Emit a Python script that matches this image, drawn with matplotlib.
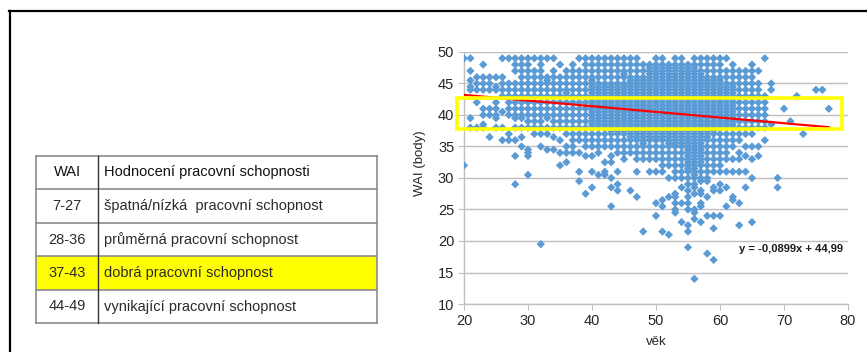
import matplotlib
matplotlib.use("Agg")
import matplotlib.pyplot as plt
from matplotlib.patches import Rectangle
from matplotlib.lines import Line2D
import numpy as np

# ---------------- data ----------------
table_wai = ["7-27", "28-36", "37-43", "44-49"]
table_desc = ["špatná/nízká  pracovní schopnost", "průměrná pracovní schopnost",
              "dobrá pracovní schopnost", "vynikající pracovní schopnost"]
table_header = ["WAI", "Hodnocení pracovní schopnosti"]
highlight_row = 2

ages = list(range(20, 78))
wai_columns = [
    [49, 32],                                                        # 20
    [49, 47, 45.5, 44.5, 44, 39.5, 38],                              # 21
    [46, 45, 44, 42, 38],                                            # 22
    [48, 46, 45, 44, 41, 40, 38.5, 38],                              # 23
    [46, 45, 44, 41, 40, 36.5],                                      # 24
    [46, 44.5, 44, 42, 41, 40, 39.5, 38],                            # 25
    [49, 46, 45, 44, 43, 40.5, 38, 36],                              # 26
    [49, 45, 44, 43, 42, 41, 40, 37, 36],                            # 27
    [49, 48, 47, 45, 44, 43, 42, 41, 40, 39.5, 38, 36, 33.5, 29],    # 28
    [49, 48, 47, 46, 45, 44, 43, 42, 41, 40, 39.5, 38, 36.5, 35],    # 29
    [49, 48, 47, 46, 45, 44, 43, 42, 41, 40, 39, 38, 34.5, 34, 33.5, 30.5],  # 30
    [49, 47, 46, 45, 44, 43, 42, 41, 40, 39, 38, 37],                # 31
    [49, 48, 47, 46, 45, 44, 43, 42, 41, 40, 39, 38, 37, 35, 19.5],  # 32
    [49, 46, 45.5, 45, 44, 43, 42, 41, 40, 39.5, 38, 37, 34.5],      # 33
    [49, 47, 46, 45, 44, 43, 42, 41, 40, 39, 38, 36.5, 34.5],        # 34
    [48, 46, 45, 44, 43, 42, 41, 40, 39, 38, 36, 34, 32],            # 35
    [47, 46, 45, 44, 43.5, 43, 42, 41, 40, 39, 38, 37, 35, 34, 32.5],  # 36
    [48, 47, 46, 45, 44, 43, 42, 41, 40, 39, 38, 37, 36, 35, 34],    # 37
    [49, 47, 46, 45, 44, 43, 42, 41, 40, 39, 38, 37, 36, 34, 31, 29.5],  # 38
    [49, 48, 47, 46, 45, 44, 43, 42, 41, 40, 39, 38, 37, 36, 35, 33.5, 27.5],  # 39
    [49, 48, 47, 46, 45.5, 45, 44.5, 44, 43.5, 43, 42.5, 42, 41.5, 41, 40.5, 40,
     39.5, 39, 38.5, 38, 37, 36, 35, 33.5, 31, 28.5],                # 40
    [49, 48, 47, 46, 45, 44.5, 44, 43.5, 43, 42.5, 42, 41.5, 41, 40.5, 40, 39.5,
     39, 38.5, 38, 37, 36, 35, 34, 30.5],                            # 41
    [49, 48, 47, 46, 45, 44.5, 44, 43.5, 43, 42.5, 42, 41.5, 41, 40.5, 40, 39.5,
     39, 38.5, 38, 37, 36, 35, 32.5, 31, 30.5],                      # 42
    [49, 48, 47, 46, 45, 44.5, 44, 43.5, 43, 42.5, 42, 41.5, 41, 40.5, 40, 39.5,
     39, 38.5, 38, 37.5, 37, 36, 35, 33.5, 32.5, 30, 28.5, 25.5],    # 43
    [49, 48, 47, 46, 45, 44.5, 44, 43.5, 43, 42.5, 42, 41.5, 41, 40.5, 40, 39.5,
     39, 38.5, 38, 37.5, 37, 36, 35, 34, 31, 29, 28],                # 44
    [49, 48, 47, 46.5, 46, 45, 44.5, 44, 43.5, 43, 42.5, 42, 41.5, 41, 40.5, 40,
     39.5, 39, 38.5, 38, 37.5, 37, 36, 35, 34, 33],                  # 45
    [49, 48, 47, 46, 45.5, 45, 44.5, 44, 43.5, 43, 42.5, 42, 41.5, 41, 40.5, 40,
     39.5, 39, 38.5, 38, 37.5, 37, 36.5, 36, 35, 34, 28],            # 46
    [49, 48, 47, 46, 45.5, 45, 44.5, 44, 43.5, 43, 42.5, 42, 41.5, 41, 40.5, 40,
     39.5, 39, 38.5, 38, 37.5, 37, 36.5, 36, 35, 34, 33, 31, 27],    # 47
    [48, 47, 46, 45.5, 45, 44.5, 44, 43.5, 43, 42.5, 42, 41.5, 41, 40.5, 40, 39.5,
     39, 38.5, 38, 37.5, 37, 36.5, 36, 35.5, 35, 34, 33, 21.5],      # 48
    [48, 47.5, 47, 46.5, 46, 45.5, 45, 44.5, 44, 43.5, 43, 42.5, 42, 41.5, 41,
     40.5, 40, 39.5, 39, 38.5, 38, 37.5, 37, 36.5, 36, 35, 34, 33, 31],  # 49
    [49, 48, 47.5, 47, 46.5, 46, 45.5, 45, 44.5, 44, 43.5, 43, 42.5, 42, 41.5, 41,
     40.5, 40, 39.5, 39, 38.5, 38, 37.5, 37, 36.5, 36, 35, 34, 33, 31, 26, 24],  # 50
    [49, 48, 47.5, 47, 46.5, 46, 45.5, 45, 44.5, 44, 43.5, 43, 42.5, 42, 41.5, 41,
     40.5, 40, 39.5, 39, 38.5, 38, 37.5, 37, 36.5, 36, 35, 34, 33, 32, 31, 26.5,
     25.5, 21.5],                                                    # 51
    [48, 47.5, 47, 46.5, 46, 45.5, 45, 44.5, 44, 43.5, 43, 42.5, 42, 41.5, 41, 40.5,
     40, 39.5, 39, 38.5, 38, 37.5, 37, 36.5, 36, 35.5, 35, 34, 33, 32, 30, 27, 21],  # 52
    [49, 48, 47.5, 47, 46.5, 46, 45.5, 45, 44.5, 44, 43.5, 43, 42.5, 42, 41.5, 41,
     40.5, 40, 39.5, 39, 38.5, 38, 37.5, 37, 36.5, 36, 35.5, 35, 34, 33, 32, 31, 30,
     27.5, 27, 26, 25, 24.5],                                        # 53
    [49, 48, 47.5, 47, 46.5, 46, 45.5, 45, 44.5, 44, 43.5, 43, 42.5, 42, 41.5, 41,
     40.5, 40, 39.5, 39, 38.5, 38, 37.5, 37, 36.5, 36, 35.5, 35, 34, 33, 32, 31, 30,
     28.5, 26, 23],                                                  # 54
    [48, 47.5, 47, 46.5, 46, 45.5, 45, 44.5, 44, 43.5, 43, 42.5, 42, 41.5, 41, 40.5,
     40, 39.5, 39, 38.5, 38, 37.5, 37, 36.5, 36, 35.5, 35, 34.5, 34, 33.5, 33, 32.5,
     32, 31.5, 31, 30, 29, 28, 27, 26, 25, 22.5, 21.5, 19],          # 55
    [49, 48, 47.5, 47, 46.5, 46, 45.5, 45, 44.5, 44, 43.5, 43, 42.5, 42, 41.5, 41,
     40.5, 40, 39.5, 39, 38.5, 38, 37.5, 37, 36.5, 36, 35.5, 35, 34.5, 34, 33.5, 33,
     32.5, 32, 31.5, 31, 30.5, 30, 29, 28.5, 27.5, 25, 24.5, 23.5, 14],  # 56
    [49, 48, 47, 46.5, 46, 45.5, 45, 44.5, 44, 43.5, 43, 42.5, 42, 41.5, 41, 40.5,
     40, 39.5, 39, 38.5, 38, 37.5, 37, 36.5, 36, 35.5, 35, 34.5, 34, 33.5, 33, 32.5,
     32, 31, 30, 29.5, 28, 27.5, 26, 25.5, 23],                      # 57
    [49, 48, 47, 46, 45.5, 45, 44.5, 44, 43.5, 43, 42.5, 42, 41.5, 41, 40.5, 40,
     39.5, 39, 38.5, 38, 37.5, 37, 36.5, 36, 35, 34, 33, 32, 31, 30, 29.5, 27, 24, 18],  # 58
    [49, 48, 47, 46, 45.5, 45, 44.5, 44, 43.5, 43, 42.5, 42, 41.5, 41, 40.5, 40,
     39.5, 39, 38.5, 38, 37.5, 37, 36, 35, 34, 33, 32, 31, 28.5, 28, 24, 22, 17],  # 59
    [49, 48, 47, 46, 45.5, 45, 44.5, 44, 43.5, 43, 42.5, 42, 41.5, 41, 40.5, 40,
     39.5, 39, 38.5, 38, 37, 36, 35, 34, 33, 32, 31, 29, 28, 24],    # 60
    [49, 47, 46, 45, 44.5, 44, 43.5, 43, 42.5, 42, 41.5, 41, 40.5, 40, 39.5, 39,
     38.5, 38, 37, 36, 35, 34, 33, 31, 28.5, 25.5],                  # 61
    [48, 47, 46, 45, 44.5, 44, 43.5, 43, 42.5, 42, 41.5, 41, 40.5, 40, 39.5, 39,
     38.5, 38, 37, 36, 35, 33, 31, 27, 26.5],                        # 62
    [47, 46, 45, 44, 43, 42, 41, 40, 39, 38, 37, 36, 34, 33, 31, 26, 22.5],  # 63
    [47, 46, 45, 44, 43, 42, 41, 40, 39, 38, 37, 35, 33.5, 31, 28.5],  # 64
    [48, 47, 46, 45, 44, 43, 42, 41, 40, 39, 38, 37, 35, 33, 30, 23],  # 65
    [47, 45, 44, 43, 42, 41, 40, 39, 38, 35, 33.5],                  # 66
    [49, 43, 42, 41, 40, 39, 38, 36],                                # 67
    [45, 44, 38.5],                                                  # 68
    [30, 28.5],                                                      # 69
    [41],                                                            # 70
    [39],                                                            # 71
    [43],                                                            # 72
    [37],                                                            # 73
    [],                                                              # 74
    [44],                                                            # 75
    [44],                                                            # 76
    [41],                                                            # 77
]
trend_slope = -0.0899
trend_intercept = 44.99
trend_x = [20, 77]
band_low, band_high = 37.8, 42.65
equation_text = "y = -0,0899x + 44,99"

# ---------------- figure ----------------
W, H = 867, 352
fam = ["Liberation Sans", "DejaVu Sans"]
plt.rcParams["font.family"] = fam
fig = plt.figure(figsize=(W / 100, H / 100), dpi=100)
fig.patch.set_facecolor("white")

def fx(px):
    return px / W

def fy(py):
    return 1 - py / H

# outer frame (top and left)
fig.add_artist(Line2D([fx(9), fx(867)], [fy(11), fy(11)], color="black", lw=1.6))
fig.add_artist(Line2D([fx(9.5), fx(9.5)], [fy(11), fy(352)], color="black", lw=1.6))

# ---------------- table ----------------
tl, tr, tdiv = 36, 377, 98
row_edges = [156, 189, 223, 256, 290, 323]
hy0, hy1 = row_edges[highlight_row + 1], row_edges[highlight_row + 2]
fig.add_artist(Rectangle((fx(tl), fy(hy1)), fx(tr) - fx(tl), fy(hy0) - fy(hy1),
                         facecolor="#FFFF00", edgecolor="none", transform=fig.transFigure))
for ye in row_edges:
    fig.add_artist(Line2D([fx(tl), fx(tr)], [fy(ye), fy(ye)], color="#8c8c8c", lw=1.2))
fig.add_artist(Line2D([fx(tl), fx(tl)], [fy(row_edges[0]), fy(row_edges[-1])], color="#8c8c8c", lw=1.2))
fig.add_artist(Line2D([fx(tr), fx(tr)], [fy(row_edges[0]), fy(row_edges[-1])], color="#8c8c8c", lw=1.2))
fig.add_artist(Line2D([fx(tdiv), fx(tdiv)], [fy(row_edges[0]), fy(row_edges[-1])], color="#333333", lw=1.0))

rows_left = [table_header[0]] + table_wai
rows_right = [table_header[1]] + table_desc
for i in range(5):
    yc = (row_edges[i] + row_edges[i + 1]) / 2
    col = "#111111" if i == 0 else "#2b2b2b"
    fig.text(fx(67), fy(yc), rows_left[i], ha="center", va="center", fontsize=10.5, color=col)
    fig.text(fx(104), fy(yc), rows_right[i], ha="left", va="center", fontsize=10.5, color=col)

# ---------------- scatter ----------------
ax = fig.add_axes([fx(464), fy(304), fx(848) - fx(464), fy(52) - fy(304)])
xs, ys = [], []
for a, col in zip(ages, wai_columns):
    for v in col:
        xs.append(a)
        ys.append(v)
ax.scatter(xs, ys, marker="D", s=18, color="#5B9BD5", edgecolors="none", zorder=3)

tx = np.array(trend_x, dtype=float)
ax.plot(tx, trend_slope * tx + trend_intercept, color="#FF0000", lw=1.6, zorder=4)

ax.add_patch(Rectangle((18.86, band_low), 79.0 - 18.86, band_high - band_low,
                       fill=False, edgecolor="#FFFF00", lw=2.6, zorder=5, clip_on=False))

ax.text(62.9, 18.8, equation_text, fontsize=8, fontweight="bold", ha="left", va="center",
        color="#1a1a1a", zorder=6)

ax.set_xlim(20, 80)
ax.set_ylim(10, 50)
ax.set_xticks(range(20, 81, 10))
ax.set_yticks(range(10, 51, 5))
ax.grid(axis="y", color="#BFBFBF", lw=1.0, zorder=0)
ax.set_axisbelow(True)
for s in ["top", "right"]:
    ax.spines[s].set_visible(False)
for s in ["left", "bottom"]:
    ax.spines[s].set_color("#BFBFBF")
    ax.spines[s].set_linewidth(1.0)
ax.tick_params(axis="both", direction="out", length=4, color="#BFBFBF", labelsize=10.5,
               labelcolor="#262626", pad=3)
ax.set_ylabel("WAI (body)", fontsize=9.5, color="#262626")
ax.yaxis.set_label_coords(-0.10, 0.56)
ax.set_xlabel("věk", fontsize=9.5, color="#262626", labelpad=6)

fig.savefig("out.png", dpi=100, facecolor="white")
